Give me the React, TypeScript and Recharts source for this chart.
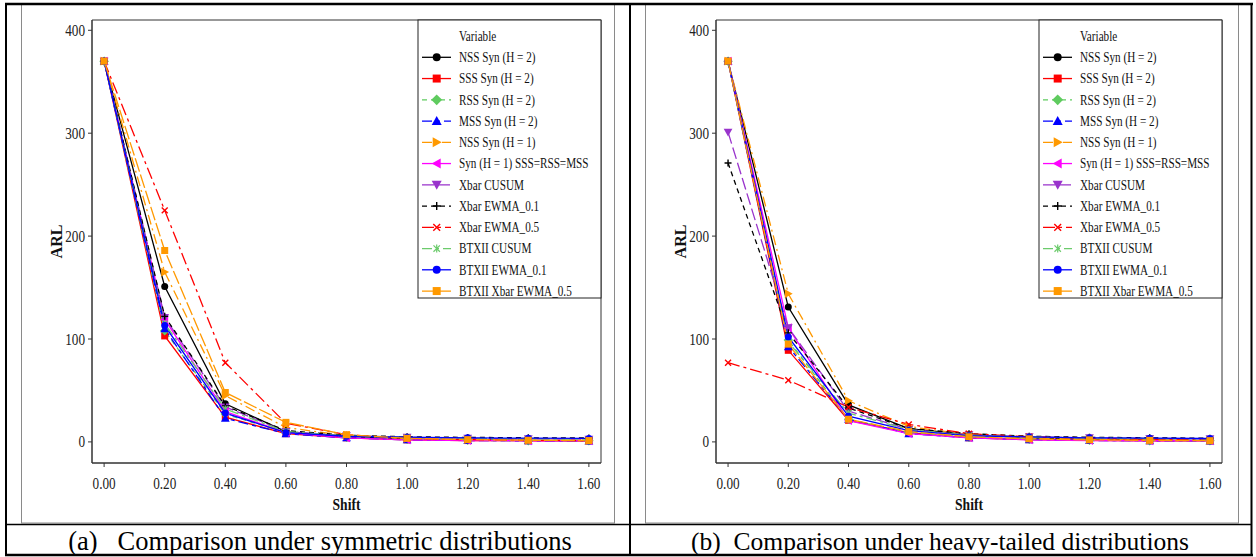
import React from 'react';
import { LineChart, Line, XAxis, YAxis, ReferenceArea } from 'recharts';

// ---------- data ----------
const shift = [0, 0.2, 0.4, 0.6, 0.8, 1.0, 1.2, 1.4, 1.6];
const xTicks = [0, 0.2, 0.4, 0.6, 0.8, 1.0, 1.2, 1.4, 1.6];
const yTicks = [0, 100, 200, 300, 400];

const seriesNames = [
  'NSS Syn (H = 2)',
  'SSS Syn (H = 2)',
  'RSS Syn (H = 2)',
  'MSS Syn (H = 2)',
  'NSS Syn (H = 1)',
  'Syn (H = 1) SSS=RSS=MSS',
  'Xbar CUSUM',
  'Xbar EWMA_0.1',
  'Xbar EWMA_0.5',
  'BTXII CUSUM',
  'BTXII EWMA_0.1',
  'BTXII Xbar EWMA_0.5',
];
const seriesColors = ['#000000', '#FF0000', '#5FCB5F', '#0000FF', '#FF9900', '#FF00FF', '#9933CC', '#000000', '#FF0000', '#6CCB6C', '#0000FF', '#FF9900'];
const seriesDash = ['', '', '5 4', '10 4 4 4', '10 4 2 4', '', '12 4', '5 4', '12 4 3 4', '10 4 3 4', '', '14 3'];
const seriesShapes = ['circle', 'square', 'diamond', 'triUp', 'triRight', 'triLeft', 'triDown', 'plus', 'cross', 'asterisk', 'circle', 'square'];

// (a) symmetric distributions
const symNSS2 = [370, 151, 37, 10, 5, 3, 2, 1.5, 1.2];
const symSSS2 = [370, 103, 24, 8, 4, 2, 1.3, 1.1, 1.0];
const symRSS2 = [370, 108, 27, 9, 4.5, 2.5, 1.5, 1.2, 1.1];
const symMSS2 = [370, 110, 23, 8, 4, 2, 1.3, 1.1, 1.0];
const symNSS1 = [370, 165, 45, 14, 6, 3.5, 2.2, 1.6, 1.3];
const symSyn1 = [370, 119, 29.5, 9, 4, 2, 1.3, 1.1, 1.0];
const symXCusum = [370, 121, 34, 10, 6, 4.5, 3.5, 3, 2.7];
const symXEwma01 = [370, 122, 35, 11, 6.5, 5, 4.4, 4, 3.8];
const symXEwma05 = [370, 225, 77, 18, 7, 3.5, 2.2, 1.6, 1.3];
const symBCusum = [370, 115, 32, 10, 6, 4.5, 3.5, 3, 2.6];
const symBEwma01 = [370, 113, 28, 9, 5.5, 4.5, 4, 3.6, 3.4];
const symBXEwma05 = [370, 186, 48, 19, 7, 3.5, 2.2, 1.6, 1.3];

// (b) heavy-tailed distributions
const hvyNSS2 = [370, 131, 36, 13, 7, 4, 2.5, 1.8, 1.4];
const hvySSS2 = [370, 89, 21, 9, 4, 2.2, 1.4, 1.1, 1.0];
const hvyRSS2 = [370, 99, 22, 9, 4.5, 2.5, 1.5, 1.2, 1.1];
const hvyMSS2 = [370, 92.5, 22, 8, 4, 2.2, 1.4, 1.1, 1.0];
const hvyNSS1 = [370, 144, 40, 15, 7, 4, 2.5, 1.8, 1.4];
const hvySyn1 = [370, 111, 20.7, 8, 4, 2, 1.3, 1.1, 1.0];
const hvyXCusum = [301, 111, 30, 12, 7, 5, 4, 3.4, 3];
const hvyXEwma01 = [271, 106, 33, 13, 8, 5.5, 4.5, 4, 3.6];
const hvyXEwma05 = [77, 60, 33.7, 17, 8, 5, 3.5, 2.5, 2];
const hvyBCusum = [370, 97, 28, 12, 6.5, 4.8, 3.8, 3.3, 3];
const hvyBEwma01 = [370, 102, 25, 11, 6, 4.8, 4, 3.6, 3.3];
const hvyBXEwma05 = [370, 95, 22, 10, 5, 3, 2, 1.5, 1.2];

const symSeries = [symNSS2, symSSS2, symRSS2, symMSS2, symNSS1, symSyn1, symXCusum, symXEwma01, symXEwma05, symBCusum, symBEwma01, symBXEwma05];
const hvySeries = [hvyNSS2, hvySSS2, hvyRSS2, hvyMSS2, hvyNSS1, hvySyn1, hvyXCusum, hvyXEwma01, hvyXEwma05, hvyBCusum, hvyBEwma01, hvyBXEwma05];

const captionA = '(a)\u00a0\u00a0 Comparison under symmetric distributions';
const captionB = '(b)\u00a0 Comparison under heavy-tailed distributions';

function buildRows(series: number[][]) {
  return shift.map((s, i) => {
    const row: Record<string, number> = { shift: s };
    series.forEach((arr, k) => {
      row['s' + k] = arr[i];
    });
    return row;
  });
}

// ---------- styling ----------
const FONT = '"Liberation Serif", "Times New Roman", serif';
const AXIS = '#333333';
const SQ = 0.8;

function MarkerShape({ cx, cy, shape, color, r }: { cx: number; cy: number; shape: string; color: string; r: number }) {
  if (cx == null || cy == null || isNaN(cx) || isNaN(cy)) return <g />;
  switch (shape) {
    case 'circle':
      return <circle cx={cx} cy={cy} r={r} fill={color} />;
    case 'square':
      return <rect x={cx - r} y={cy - r} width={2 * r} height={2 * r} fill={color} />;
    case 'diamond': {
      const d = r * 1.35;
      return <polygon points={`${cx},${cy - d} ${cx + d},${cy} ${cx},${cy + d} ${cx - d},${cy}`} fill={color} />;
    }
    case 'triUp': {
      const d = r * 1.25;
      return <polygon points={`${cx},${cy - d} ${cx + d},${cy + d * 0.8} ${cx - d},${cy + d * 0.8}`} fill={color} />;
    }
    case 'triDown': {
      const d = r * 1.25;
      return <polygon points={`${cx},${cy + d} ${cx + d},${cy - d * 0.8} ${cx - d},${cy - d * 0.8}`} fill={color} />;
    }
    case 'triRight': {
      const d = r * 1.25;
      return <polygon points={`${cx + d},${cy} ${cx - d * 0.8},${cy - d} ${cx - d * 0.8},${cy + d}`} fill={color} />;
    }
    case 'triLeft': {
      const d = r * 1.25;
      return <polygon points={`${cx - d},${cy} ${cx + d * 0.8},${cy - d} ${cx + d * 0.8},${cy + d}`} fill={color} />;
    }
    case 'plus':
      return (
        <path d={`M${cx - r},${cy}H${cx + r}M${cx},${cy - r}V${cy + r}`} stroke={color} strokeWidth={1.4} fill="none" />
      );
    case 'cross': {
      const d = r * 0.85;
      return (
        <path d={`M${cx - d},${cy - d}L${cx + d},${cy + d}M${cx - d},${cy + d}L${cx + d},${cy - d}`} stroke={color} strokeWidth={1.4} fill="none" />
      );
    }
    case 'asterisk': {
      const d = r * 0.8;
      return (
        <path
          d={`M${cx - d},${cy - d}L${cx + d},${cy + d}M${cx - d},${cy + d}L${cx + d},${cy - d}M${cx},${cy - r}V${cy + r}`}
          stroke={color}
          strokeWidth={1.2}
          fill="none"
        />
      );
    }
    default:
      return <circle cx={cx} cy={cy} r={r} fill={color} />;
  }
}

const XTick = (props: any) => {
  const { x, y, payload } = props;
  return (
    <text
      transform={`translate(${x},${y}) scale(${SQ},1)`}
      textAnchor="middle"
      dy={20}
      fontFamily={FONT}
      fontSize={16.5}
      fill="#222"
    >
      {Number(payload.value).toFixed(2)}
    </text>
  );
};

const YTick = (props: any) => {
  const { x, y, payload } = props;
  return (
    <text
      transform={`translate(${x - 1},${y}) scale(${SQ},1)`}
      textAnchor="end"
      dy={5.5}
      fontFamily={FONT}
      fontSize={16.5}
      fill="#222"
    >
      {payload.value}
    </text>
  );
};

const PANEL_W = 615;
const PANEL_H = 523;
const PLOT_L = 92;
const PLOT_T = 20;
const PLOT_B = 463;

function Legend({ x, y }: { x: number; y: number }) {
  const w = 183;
  const h = 278;
  return (
    <g>
      <rect x={x} y={y} width={w} height={h} fill="#fff" stroke="#222" strokeWidth={1} />
      <text
        transform={`translate(${x + 41},${y + 20.5}) scale(${SQ},1)`}
        fontFamily={FONT}
        fontSize={14}
        fill="#111"
      >
        Variable
      </text>
      {seriesNames.map((name, k) => {
        const cy = y + 37.3 + k * 21.25;
        return (
          <g key={name}>
            <line
              x1={x + 4}
              x2={x + 33}
              y1={cy}
              y2={cy}
              stroke={seriesColors[k]}
              strokeWidth={1.3}
              strokeDasharray={seriesDash[k] || undefined}
            />
            <MarkerShape cx={x + 18.7} cy={cy} shape={seriesShapes[k]} color={seriesColors[k]} r={4} />
            <text
              transform={`translate(${x + 41},${cy + 4.8}) scale(${SQ},1)`}
              fontFamily={FONT}
              fontSize={14}
              fill="#111"
            >
              {name}
            </text>
          </g>
        );
      })}
    </g>
  );
}

function Panel({ left, series, rightMargin }: { left: number; series: number[][]; rightMargin: number }) {
  const rows = buildRows(series);
  const plotR = PANEL_W - rightMargin;
  return (
    <div style={{ position: 'absolute', left, top: 0, width: PANEL_W, height: PANEL_H }}>
      <LineChart
        width={PANEL_W}
        height={PANEL_H}
        data={rows}
        margin={{ top: PLOT_T, right: rightMargin, bottom: 0, left: 0 }}
      >
        <XAxis
          dataKey="shift"
          type="number"
          domain={[-0.04, 1.64]}
          allowDataOverflow
          ticks={xTicks}
          tick={<XTick />}
          tickSize={4}
          height={PANEL_H - PLOT_B}
          stroke={AXIS}
          axisLine={{ stroke: AXIS }}
          tickLine={{ stroke: AXIS }}
          interval={0}
        />
        <YAxis
          type="number"
          domain={[-20.5, 410]}
          allowDataOverflow
          ticks={yTicks}
          tick={<YTick />}
          tickSize={4}
          width={PLOT_L}
          stroke={AXIS}
          axisLine={{ stroke: AXIS }}
          tickLine={{ stroke: AXIS }}
          interval={0}
        />
        <ReferenceArea x1={-0.04} x2={1.64} y1={-20.5} y2={410} fill="none" stroke={AXIS} strokeWidth={1} ifOverflow="visible" />
        {series.map((_, k) => (
          <Line
            key={'s' + k}
            dataKey={'s' + k}
            name={seriesNames[k]}
            stroke={seriesColors[k]}
            strokeWidth={1.3}
            strokeDasharray={seriesDash[k] || undefined}
            isAnimationActive={false}
            activeDot={false}
            dot={(p: any) => (
              <g key={`d${k}-${p.index}`}>
                <MarkerShape cx={p.cx} cy={p.cy} shape={seriesShapes[k]} color={seriesColors[k]} r={3.5} />
              </g>
            )}
          />
        ))}
      </LineChart>
      <svg
        width={PANEL_W}
        height={PANEL_H}
        style={{ position: 'absolute', left: 0, top: 0, pointerEvents: 'none' }}
      >
        <text
          transform={`translate(57,${(PLOT_T + PLOT_B) / 2}) rotate(-90)`}
          textAnchor="middle"
          dy={5}
          fontFamily={FONT}
          fontSize={16}
          fontWeight="bold"
          fill="#111"
        >
          ARL
        </text>
        <text
          transform={`translate(${(PLOT_L + plotR) / 2},510) scale(0.85,1)`}
          textAnchor="middle"
          fontFamily={FONT}
          fontSize={16}
          fontWeight="bold"
          fill="#111"
        >
          Shift
        </text>
        <Legend x={plotR - 183} y={PLOT_T} />
      </svg>
    </div>
  );
}

export default function App() {
  return (
    <div style={{ position: 'absolute', left: 0, top: 0, width: 1256, height: 557, background: '#fff', overflow: 'hidden' }}>
      <svg width={1256} height={557} style={{ position: 'absolute', left: 0, top: 0 }}>
        {/* image frames */}
        <rect x={21.5} y={4} width={593} height={519} fill="none" stroke="#8a8a8a" strokeWidth={1} />
        <rect x={645.5} y={4} width={593} height={519} fill="none" stroke="#8a8a8a" strokeWidth={1} />
        {/* table borders */}
        <line x1={5} x2={1253} y1={4} y2={4} stroke="#000" strokeWidth={2.5} />
        <line x1={5} x2={1253} y1={555} y2={555} stroke="#000" strokeWidth={2.5} />
        <line x1={6} x2={6} y1={3} y2={556} stroke="#000" strokeWidth={2} />
        <line x1={1251.5} x2={1251.5} y1={3} y2={556} stroke="#000" strokeWidth={2} />
        <line x1={630} x2={630} y1={3} y2={556} stroke="#000" strokeWidth={2} />
        <line x1={6} x2={1252} y1={524.5} y2={524.5} stroke="#000" strokeWidth={1.5} />
        <text x={320} y={549.5} textAnchor="middle" fontFamily={FONT} fontSize={26.5} fill="#000">
          {captionA}
        </text>
        <text x={940} y={549.5} textAnchor="middle" fontFamily={FONT} fontSize={25.5} fill="#000">
          {captionB}
        </text>
      </svg>
      <Panel left={0} series={symSeries} rightMargin={14} />
      <Panel left={624} series={hvySeries} rightMargin={17} />
    </div>
  );
}
